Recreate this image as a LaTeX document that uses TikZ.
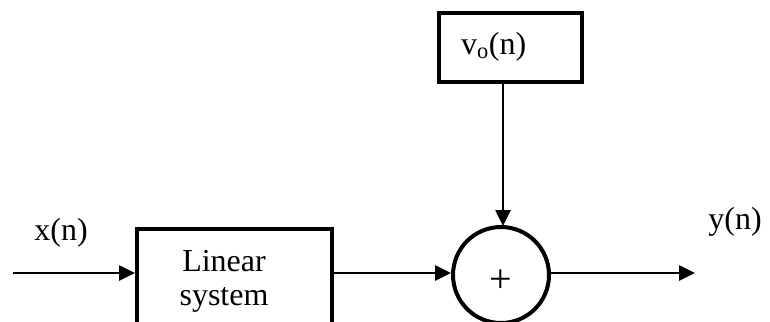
\documentclass[tikz,border=0pt]{standalone}
\usepackage{fontspec}
\setmainfont{Liberation Serif}
\usetikzlibrary{arrows.meta}
\begin{document}
\begin{tikzpicture}[x=1pt,y=-1pt,
  blk/.style={draw,line width=4pt,inner sep=0pt},
  conn/.style={line width=2.6pt,-{Triangle[length=16pt,width=15pt]}},
  lbl/.style={font=\fontsize{32}{34}\selectfont,inner sep=0pt}]
\useasboundingbox (0,0) rectangle (770,321);
\clip (0,0) rectangle (770,321);
\node[blk,minimum width=143pt,minimum height=69pt] (vo) at (510.5,47.5) {};
\node[lbl,anchor=west] (votxt) at (461,47) {v\textsubscript{o}(n)};
\node[blk,minimum width=195pt,minimum height=140pt,anchor=north west] (lin) at (135,227) {};
\node[lbl,align=center] (lintxt) at (224,281) {Linear\\system};
\node[blk,circle,minimum size=96pt] (sum) at (501,275) {};
\node[lbl,font=\fontsize{40}{40}\selectfont] (plus) at (501,281) {+};
\coordinate (in) at (13,273);
\coordinate (out) at (695,273);
\node[lbl] (xn) at (61,233) {x(n)};
\node[lbl] (yn) at (735,222) {y(n)};
\draw[conn] (in) -- (in -| lin.west);
\draw[conn] (lin.east |- in) -- (sum.west |- in);
\draw[conn] (vo.south -| 503,0) -- (503,226);
\draw[conn] (sum.east |- out) -- (out);
\end{tikzpicture}
\end{document}
